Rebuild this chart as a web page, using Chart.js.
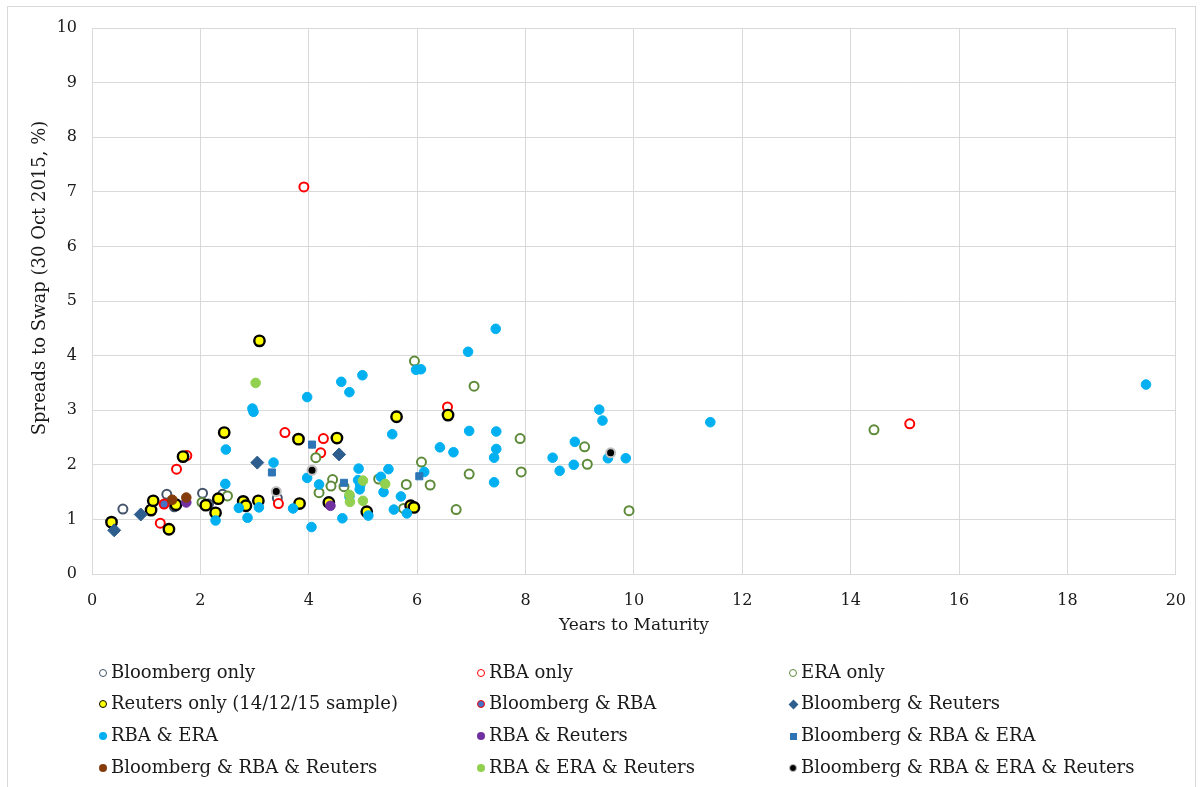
<!DOCTYPE html>
<html>
<head>
<meta charset="utf-8">
<script src="https://cdn.jsdelivr.net/npm/chart.js@4.4.1/dist/chart.umd.min.js"></script>
<style>
html,body{margin:0;padding:0;background:#fff;}
#wrap{position:relative;width:1203px;height:787px;overflow:hidden;}
#frame{position:absolute;left:7px;top:6px;width:1189px;height:800px;border:1px solid #D9D9D9;box-sizing:border-box;}
#c{position:absolute;left:0;top:0;}
#legend{position:absolute;left:0;top:0;width:1203px;height:787px;pointer-events:none;font-family:"DejaVu Serif",serif;font-size:18px;color:#1a1a1a;}
.item{position:absolute;white-space:nowrap;height:22px;line-height:22px;}
.mk{position:absolute;box-sizing:border-box;}
</style>
</head>
<body>
<div id="wrap">
  <div id="frame"></div>
  <canvas id="c" width="1203" height="787"></canvas>
  <div id="legend"></div>
</div>
<script>
// ---------- DATA (x = years to maturity, y = spread to swap %) ----------
const seriesNames = [
  "Bloomberg only", "RBA only", "ERA only",
  "Reuters only (14/12/15 sample)", "Bloomberg & RBA", "Bloomberg & Reuters",
  "RBA & ERA", "RBA & Reuters", "Bloomberg & RBA & ERA",
  "Bloomberg & RBA & Reuters", "RBA & ERA & Reuters", "Bloomberg & RBA & ERA & Reuters"
];
const xTicks = [0, 2, 4, 6, 8, 10, 12, 14, 16, 18, 20];
const yTicks = [0, 1, 2, 3, 4, 5, 6, 7, 8, 9, 10];

const bloombergOnly = [[0.57,1.19],[1.38,1.46],[1.52,1.23],[2.04,1.48],[2.15,1.28],[2.41,1.46],[3.42,1.39]];
const rbaOnly = [[3.91,7.09],[1.26,0.93],[1.56,1.92],[1.75,2.17],[3.56,2.59],[3.44,1.29],[4.27,2.48],[4.22,2.22],[6.56,3.06],[15.09,2.75]];
const eraOnly = [[2.03,1.31],[2.50,1.43],[4.13,2.13],[4.44,1.73],[4.41,1.61],[4.65,1.60],[4.19,1.49],[5.29,1.74],[5.80,1.64],[6.24,1.63],[5.75,1.20],[6.72,1.18],[6.08,2.05],[6.96,1.83],[7.05,3.44],[5.95,3.90],[7.90,2.48],[7.92,1.87],[9.09,2.33],[9.14,2.01],[9.91,1.16],[14.43,2.64]];
const reutersOnly = [[0.36,0.95],[1.09,1.17],[1.13,1.34],[1.42,0.82],[1.55,1.27],[1.68,2.15],[2.10,1.26],[2.28,1.12],[2.33,1.38],[2.44,2.59],[2.79,1.33],[2.84,1.25],[3.07,1.34],[3.09,4.27],[3.81,2.47],[3.83,1.29],[4.37,1.31],[4.52,2.49],[5.07,1.14],[5.62,2.88],[5.88,1.25],[5.94,1.22],[6.57,2.91]];
const bloombergRba = [[1.33,1.28]];
const bloombergReuters = [[0.41,0.80],[0.90,1.09],[3.05,2.04],[4.56,2.19]];
const rbaEra = [[2.47,2.28],[2.46,1.65],[2.28,0.98],[2.71,1.21],[2.87,1.03],[3.08,1.22],[2.96,3.03],[2.98,2.97],[3.35,2.04],[3.71,1.20],[3.97,3.24],[3.97,1.76],[4.05,0.86],[4.19,1.64],[4.60,3.52],[4.75,3.33],[4.99,3.64],[4.62,1.02],[4.75,1.42],[4.92,1.93],[4.91,1.72],[4.95,1.63],[4.94,1.55],[5.10,1.07],[5.33,1.78],[5.38,1.50],[5.47,1.92],[5.54,2.56],[5.57,1.18],[5.70,1.42],[5.81,1.11],[5.98,3.74],[6.07,3.75],[6.13,1.87],[6.42,2.32],[6.67,2.23],[6.94,4.07],[6.96,2.62],[7.45,4.49],[7.46,2.61],[7.46,2.29],[7.42,2.13],[7.42,1.68],[8.50,2.13],[8.63,1.89],[8.91,2.42],[8.89,2.00],[9.36,3.01],[9.42,2.81],[9.52,2.12],[9.85,2.12],[11.41,2.78],[19.45,3.47]];
const rbaReuters = [[1.74,1.31],[4.40,1.25]];
const bloombergRbaEra = [[3.32,1.86],[4.06,2.37],[4.65,1.67],[6.04,1.79]];
const bloombergRbaReuters = [[1.48,1.36],[1.74,1.40]];
const rbaEraReuters = [[3.02,3.50],[5.00,1.71],[4.75,1.45],[4.76,1.32],[5.00,1.34],[5.41,1.65]];
const allFour = [[3.40,1.51],[4.06,1.90],[9.57,2.22]];

const seriesData = [bloombergOnly, rbaOnly, eraOnly, reutersOnly, bloombergRba, bloombergReuters,
  rbaEra, rbaReuters, bloombergRbaEra, bloombergRbaReuters, rbaEraReuters, allFour];

// ---------- STYLES ----------
const styles = [
  {shape:'circle', bg:'#FFFFFF', border:'#44546A', bw:2, r:4.5},
  {shape:'circle', bg:'#FFFFFF', border:'#FF0000', bw:2, r:4.5},
  {shape:'circle', bg:'#FFFFFF', border:'#5E8B3A', bw:2, r:4.5},
  {shape:'circle', bg:'#FFFF00', border:'#000000', bw:2.4, r:5.2},
  {shape:'circle', bg:'#4472C4', border:'#FF0000', bw:2, r:4.5},
  {shape:'rectRot', bg:'#2E5E8E', border:'#2E5E8E', bw:1, r:6.5},
  {shape:'circle', bg:'#00B0F0', border:'#00B0F0', bw:1, r:4.8},
  {shape:'circle', bg:'#7030A0', border:'#7030A0', bw:1, r:4.8},
  {shape:'rect', bg:'#2E75B6', border:'#2E75B6', bw:1, r:5},
  {shape:'circle', bg:'#843C0C', border:'#843C0C', bw:1, r:4.8},
  {shape:'circle', bg:'#92D050', border:'#92D050', bw:1, r:4.8},
  {shape:'circle', bg:'#000000', border:'#BFBFBF', bw:2, r:4.5}
];

const FONT = '"DejaVu Serif", serif';
const TXT = '#1a1a1a';
const GRID = '#D9D9D9';

const datasets = seriesData.map((arr, i) => ({
  label: seriesNames[i],
  data: arr.map(p => ({x: p[0], y: p[1]})),
  pointStyle: styles[i].shape,
  pointRadius: styles[i].r,
  pointBackgroundColor: styles[i].bg,
  pointBorderColor: styles[i].border,
  pointBorderWidth: styles[i].bw,
  pointHoverRadius: styles[i].r,
  showLine: false,
  order: seriesData.length - i
}));

const yTitlePlugin = {
  id: 'yTitle',
  afterDraw(chart) {
    const c = chart.ctx;
    c.save();
    c.translate(40, 278);
    c.rotate(-Math.PI / 2);
    c.font = '18px ' + FONT;
    c.fillStyle = TXT;
    c.textAlign = 'center';
    c.textBaseline = 'middle';
    c.fillText('Spreads to Swap (30 Oct 2015, %)', 0, 0);
    c.restore();
  }
};

new Chart(document.getElementById('c'), {
  type: 'scatter',
  data: { datasets },
  options: {
    responsive: false,
    animation: false,
    events: [],
    layout: { padding: { left: 0, top: 28, right: 25, bottom: 143 } },
    plugins: { legend: { display: false }, tooltip: { enabled: false } },
    scales: {
      x: {
        type: 'linear', min: xTicks[0], max: xTicks[xTicks.length - 1],
        afterBuildTicks(s) { s.ticks = xTicks.map(v => ({ value: v })); },
        ticks: { padding: 17, color: TXT, font: { family: FONT, size: 16 } },
        grid: { color: GRID, drawTicks: false },
        border: { color: GRID },
        title: { display: true, text: 'Years to Maturity', color: TXT, font: { family: FONT, size: 17 }, padding: { top: 0, bottom: 8 } },
        afterFit(s) { s.height = 70; }
      },
      y: {
        type: 'linear', min: yTicks[0], max: yTicks[yTicks.length - 1],
        afterBuildTicks(s) { s.ticks = yTicks.map(v => ({ value: v })); },
        ticks: { padding: 15, color: TXT, font: { family: FONT, size: 16 } },
        grid: { color: GRID, drawTicks: false },
        border: { color: GRID },
        afterFit(s) { s.width = 92; }
      }
    }
  },
  plugins: [yTitlePlugin]
});

// ---------- HTML legend (3 columns x 4 rows) ----------
const legend = document.getElementById('legend');
const colX = [103, 481, 793];
const rowY = [673, 704, 736, 768];
seriesNames.forEach((name, i) => {
  const col = i % 3, row = Math.floor(i / 3);
  const st = styles[i];
  const mk = document.createElement('div');
  mk.className = 'mk';
  let size = 8;
  if (st.shape === 'rectRot') size = 7;
  if (st.shape === 'rect') size = 7;
  mk.style.width = size + 'px';
  mk.style.height = size + 'px';
  mk.style.left = (colX[col] - size / 2) + 'px';
  mk.style.top = (rowY[row] - size / 2) + 'px';
  mk.style.background = st.bg;
  const lbw = st.bw >= 2 ? 1.6 : 0;
  if (lbw) mk.style.border = lbw + 'px solid ' + st.border;
  if (st.shape === 'circle') mk.style.borderRadius = '50%';
  if (st.shape === 'rectRot') mk.style.transform = 'rotate(45deg)';
  legend.appendChild(mk);
  const it = document.createElement('div');
  it.className = 'item';
  it.textContent = name;
  it.style.left = (colX[col] + 8) + 'px';
  it.style.top = (rowY[row] - 12) + 'px';
  legend.appendChild(it);
});
</script>
</body>
</html>
